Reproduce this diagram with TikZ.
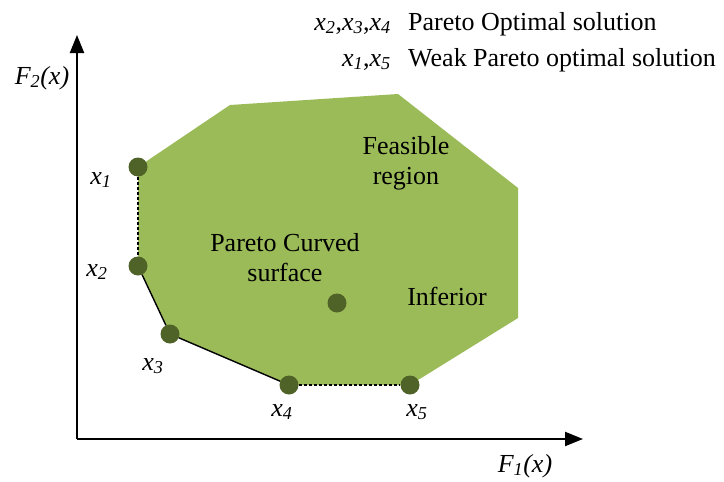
\documentclass[tikz,border=0pt]{standalone}
\usepackage{fontspec}
\setmainfont{Liberation Serif}
\usetikzlibrary{arrows.meta}
\definecolor{regionfill}{HTML}{9BBB59}
\definecolor{dotfill}{HTML}{4F6228}
\newcommand\vx[1]{\textit{x\textsubscript{#1}}}
\begin{document}
\begin{tikzpicture}[x=1pt,y=-1pt,
  txt/.style={font=\fontsize{26}{30}\selectfont, inner sep=0pt, align=center},
  pdot/.style={circle, fill=dotfill, minimum size=19pt, inner sep=0pt},
  axis/.style={line width=2.2pt, -{Triangle[length=18pt,width=14pt]}},
  front/.style={line width=1.4pt},
  weak/.style={line width=1.4pt, dash pattern=on 3pt off 2pt}]
\useasboundingbox (0,0) rectangle (724,482);
% region
\fill[regionfill] (138,167) -- (230,105) -- (398,94) -- (518,188) -- (518,318) -- (410,385) -- (289,385) -- (170,334) -- (138,266) -- cycle;
% axes
\coordinate (O) at (77,439);
\coordinate (ytip) at (77,35);
\coordinate (xtip) at (583,439);
\draw[axis] (O) -- (ytip);
\draw[axis] (O) -- (xtip);
% points
\node[pdot] (p1) at (138,167) {};
\node[pdot] (p2) at (138,266) {};
\node[pdot] (p3) at (170,334) {};
\node[pdot] (p4) at (289,385) {};
\node[pdot] (p5) at (410,385) {};
\node[pdot] (p6) at (337,303) {};
% connectors
\draw[weak] (p1) -- (p2);
\draw[front] (p2) -- (p3);
\draw[front] (p3) -- (p4);
\draw[weak] (p4) -- (p5);
% labels
\node[txt] (lx1) at (101,180) {\vx{1}};
\node[txt] (lx2) at (97,272) {\vx{2}};
\node[txt] (lx3) at (153,366) {\vx{3}};
\node[txt] (lx4) at (282,412) {\vx{4}};
\node[txt] (lx5) at (417,412) {\vx{5}};
\node[txt] (F2) at (42,78) {\textit{F\textsubscript{2}(x)}};
\node[txt] (F1) at (525,466) {\textit{F\textsubscript{1}(x)}};
\node[txt] (feas) at (406,163) {Feasible\\region};
\node[txt] (pcs) at (285,258) {Pareto Curved\\surface};
\node[txt] (inf) at (447,296) {Inferior};
% legend
\node[txt, anchor=base east] (l1a) at (391,30) {\vx{2},\vx{3},\vx{4}};
\node[txt, anchor=base west] (l1b) at (408,30) {Pareto Optimal solution};
\node[txt, anchor=base east] (l2a) at (391,66) {\vx{1},\vx{5}};
\node[txt, anchor=base west] (l2b) at (408,66) {Weak Pareto optimal solution};
\end{tikzpicture}
\end{document}
